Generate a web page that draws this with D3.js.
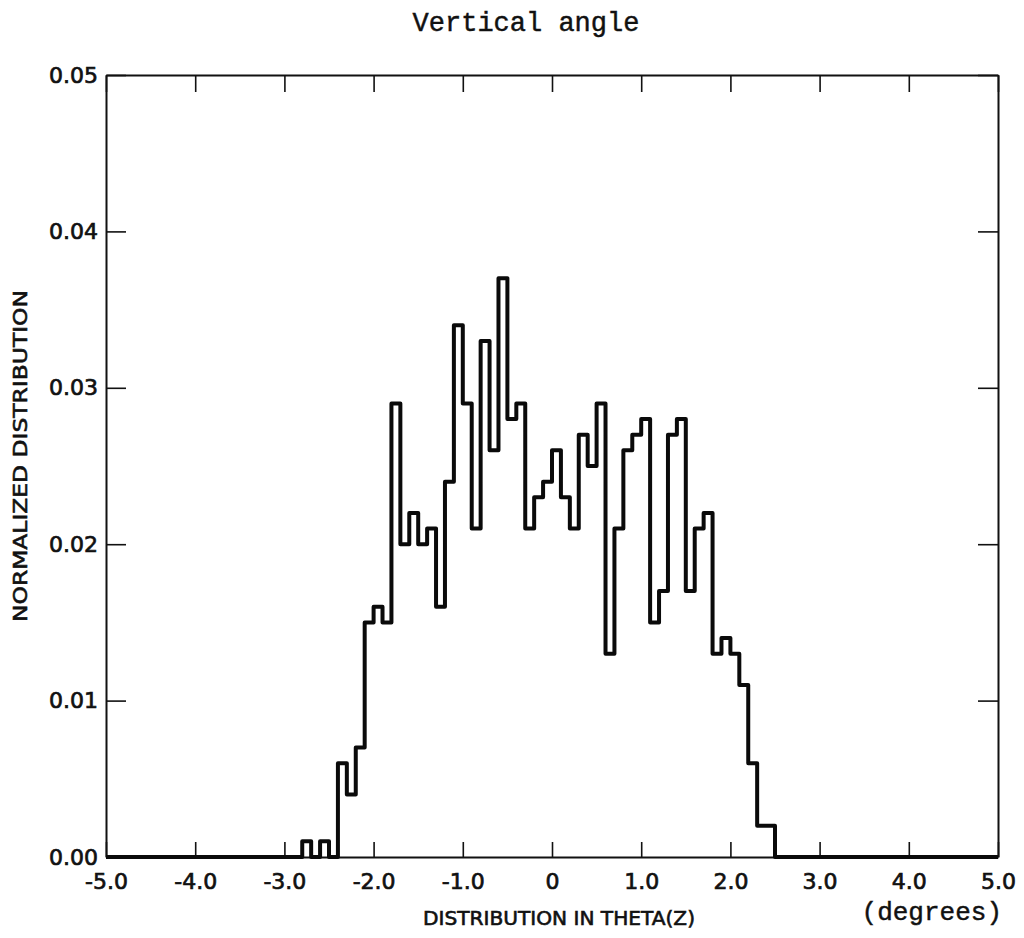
<!DOCTYPE html>
<html>
<head>
<meta charset="utf-8">
<script src="https://cdn.jsdelivr.net/npm/d3@7"></script>
<style>
  body { margin: 0; background: #fff; }
  svg { display: block; }
</style>
</head>
<body>
<svg id="chart"></svg>
<script>
// histogram of theta(z), bins of 0.1 degree, first bin starts at -2.8
const binStart = -2.8
const binWidth = 0.1
const binValues = [
    0.001, 0.000, 0.001, 0.000, 0.006, 0.004, 0.007, 0.015, 0.016, 0.015,
    0.029, 0.020, 0.022, 0.020, 0.021, 0.016, 0.024, 0.034, 0.029, 0.021,
    0.033, 0.026, 0.037, 0.028, 0.029, 0.021, 0.023, 0.024, 0.026, 0.023,
    0.021, 0.027, 0.025, 0.029, 0.013, 0.021, 0.026, 0.027, 0.028, 0.015,
    0.017, 0.027, 0.028, 0.017, 0.021, 0.022, 0.013, 0.014, 0.013, 0.011,
    0.006, 0.002, 0.002
]
const xTicks = [-5, -4, -3, -2, -1, 0, 1, 2, 3, 4, 5]
const yTicks = [0, 0.01, 0.02, 0.03, 0.04, 0.05]
const xDomain = [-5, 5]
const yDomain = [0, 0.05]

const margin = { top: 75, right: 26, bottom: 81, left: 106 }
const width = 1024 - margin.left - margin.right
const height = 938 - margin.top - margin.bottom

const svg = d3.select('#chart')
    .attr('width', 1024)
    .attr('height', 938)

const g = svg.append('g')
    .attr('transform', `translate(${margin.left}, ${margin.top})`)

const xscl = d3.scaleLinear().domain(xDomain).range([0, width])
const yscl = d3.scaleLinear().domain(yDomain).range([height, 0])

const labelFont = 'DejaVu Sans, Verdana, sans-serif'
const monoFont = 'Liberation Mono, Courier New, monospace'
const ink = '#111'
const xFormat = d => d === 0 ? '0' : (d < 0 ? '-' : '') + Math.abs(d).toFixed(1)

// bottom axis, ticks pointing inward
g.append('g')
    .attr('transform', `translate(0, ${height})`)
    .call(d3.axisBottom(xscl).tickValues(xTicks).tickSize(-15).tickSizeOuter(0).tickPadding(16).tickFormat(xFormat))

// top axis, ticks only
g.append('g')
    .call(d3.axisTop(xscl).tickValues(xTicks).tickSize(-17).tickSizeOuter(0).tickFormat(''))

// left axis
g.append('g')
    .call(d3.axisLeft(yscl).tickValues(yTicks).tickSize(-20).tickSizeOuter(0).tickPadding(8).tickFormat(d3.format('.2f')))

// right axis, ticks only
g.append('g')
    .attr('transform', `translate(${width}, 0)`)
    .call(d3.axisRight(yscl).tickValues(yTicks).tickSize(-20).tickSizeOuter(0).tickFormat(''))

g.selectAll('.domain')
    .attr('stroke', ink)
    .attr('stroke-width', 2)
g.selectAll('.tick line')
    .attr('stroke', ink)
    .attr('stroke-width', 1.6)
g.selectAll('.tick text')
    .attr('fill', ink)
    .attr('stroke', ink)
    .attr('stroke-width', 0.7)
    .style('font-family', labelFont)
    .style('font-size', '22px')

// step outline of the histogram, zero outside the filled bins
const steps = [{ x: xDomain[0], y: 0 }]
binValues.forEach((v, i) => {
    steps.push({ x: binStart + i * binWidth, y: v })
})
steps.push({ x: binStart + binValues.length * binWidth, y: 0 })
steps.push({ x: xDomain[1], y: 0 })

const line = d3.line()
    .x(d => xscl(d.x))
    .y(d => yscl(d.y))
    .curve(d3.curveStepAfter)

g.append('path')
    .datum(steps)
    .attr('fill', 'none')
    .attr('stroke', '#0a0a0a')
    .attr('stroke-width', 4)
    .attr('stroke-linejoin', 'round')
    .attr('d', line)

// titles
svg.append('text')
    .attr('x', 526)
    .attr('y', 31)
    .attr('text-anchor', 'middle')
    .attr('fill', ink)
    .attr('stroke', ink)
    .attr('stroke-width', 0.45)
    .style('font-family', monoFont)
    .style('font-size', '27px')
    .text('Vertical angle')

svg.append('text')
    .attr('x', 559)
    .attr('y', 925)
    .attr('text-anchor', 'middle')
    .attr('textLength', 272)
    .attr('lengthAdjust', 'spacingAndGlyphs')
    .attr('fill', ink)
    .attr('stroke', ink)
    .attr('stroke-width', 0.6)
    .style('font-family', labelFont)
    .style('font-size', '19px')
    .text('DISTRIBUTION IN THETA(Z)')

svg.append('text')
    .attr('x', 1002)
    .attr('y', 920)
    .attr('text-anchor', 'end')
    .attr('fill', ink)
    .attr('stroke', ink)
    .attr('stroke-width', 0.45)
    .style('font-family', monoFont)
    .style('font-size', '26px')
    .text('(degrees)')

svg.append('text')
    .attr('transform', 'translate(27, 456) rotate(-90)')
    .attr('text-anchor', 'middle')
    .attr('textLength', 332)
    .attr('lengthAdjust', 'spacingAndGlyphs')
    .attr('fill', ink)
    .attr('stroke', ink)
    .attr('stroke-width', 0.6)
    .style('font-family', labelFont)
    .style('font-size', '20px')
    .text('NORMALIZED  DISTRIBUTION')
</script>
</body>
</html>
